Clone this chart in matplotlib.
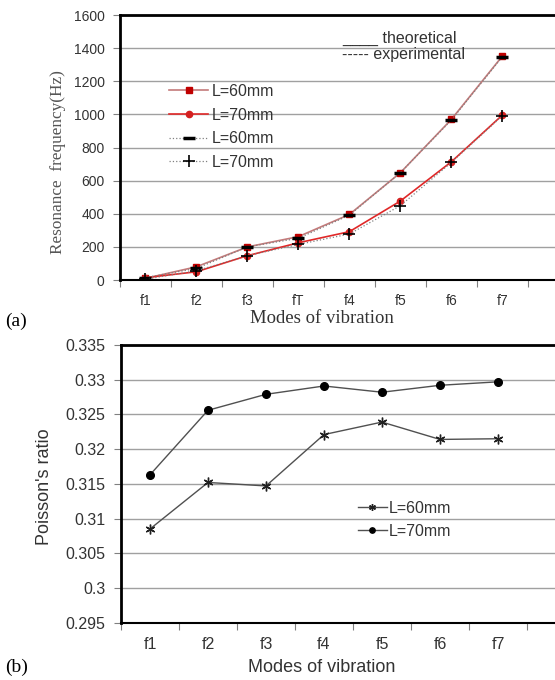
import numpy as np
import matplotlib
matplotlib.use("Agg")
import matplotlib.pyplot as plt

# (a) resonance frequency
modes_a = ["f1", "f2", "f3", "fT", "f4", "f5", "f6", "f7"]
theo_60 = [10, 80, 200, 262, 396, 648, 970, 1352]
theo_70 = [14, 50, 147, 225, 292, 477, 714, 996]
exp_60 = [15, 70, 200, 252, 392, 648, 966, 1348]
exp_70 = [5, 56, 147, 215, 278, 449, 710, 992]
freq_ticks = [0, 200, 400, 600, 800, 1000, 1200, 1400, 1600]

# (b) Poisson's ratio
modes_b = ["f1", "f2", "f3", "f4", "f5", "f6", "f7"]
nu_60 = [0.3085, 0.3152, 0.3147, 0.3221, 0.3239, 0.3214, 0.3215]
nu_70 = [0.3163, 0.3256, 0.3279, 0.3291, 0.3282, 0.3292, 0.3297]
nu_ticks = [0.295, 0.3, 0.305, 0.31, 0.315, 0.32, 0.325, 0.33, 0.335]

SANS = "Liberation Sans"
SERIF = "Liberation Serif"
TXT = "#333333"
GRID = "#a0a0a0"

fig = plt.figure(figsize=(5.55, 6.8), dpi=100)


def style_axes(ax, n, xmax, size):
    ax.set_xlim(-0.5, xmax)
    ax.set_xticks(range(n))
    ax.tick_params(axis="x", which="major", length=0, pad=10,
                   labelsize=size, labelcolor=TXT)
    ax.set_xticks(np.arange(n + 1) - 0.5, minor=True)
    ax.tick_params(axis="x", which="minor", length=5, width=0.8,
                   color="#808080", direction="out")
    ax.tick_params(axis="y", length=5, width=0.8, color="#808080",
                   labelsize=size, labelcolor=TXT, pad=6)
    for lab in ax.get_xticklabels() + ax.get_yticklabels():
        lab.set_family(SANS)
    ax.grid(axis="y", color=GRID, lw=1)
    ax.set_axisbelow(True)
    ax.spines["right"].set_visible(False)
    ax.spines["left"].set_linewidth(2)
    ax.spines["top"].set_linewidth(2)
    ax.spines["bottom"].set_linewidth(1.5)


# ---- (a)
ax1 = fig.add_axes([0.2162, 0.5882, 0.79, 0.3897])
x_a = np.arange(len(modes_a))
ax1.plot(x_a, theo_60, "-", color="#c47a7a", lw=1.2, marker="s", ms=4.5,
         mfc="#c00000", mec="#c00000", label="L=60mm")
ax1.plot(x_a, theo_70, "-", color="#e02828", lw=1.2, marker="o", ms=4.5,
         mfc="#d42020", mec="#d42020", label="L=70mm")
ax1.plot(x_a, exp_60, ":", color="#808080", lw=0.9, marker="_", ms=8,
         mew=2.5, mec="black", label="L=60mm")
ax1.plot(x_a, exp_70, ":", color="#808080", lw=0.9, marker="+", ms=8,
         mew=1.2, mec="black", label="L=70mm")
ax1.set_ylim(0, 1600)
ax1.set_yticks(freq_ticks)
ax1.set_xticklabels(modes_a)
style_axes(ax1, len(modes_a), 8.1, 10)
ax1.legend(loc="upper left", bbox_to_anchor=(0.08, 0.795), frameon=False,
           handlelength=2.4, labelspacing=0.55, handletextpad=0.25,
           prop={"family": SANS, "size": 11.5}, labelcolor=TXT)
ax1.text(0.506, 0.94, "____ theoretical", transform=ax1.transAxes,
         family=SANS, fontsize=11.5, color=TXT, va="top")
ax1.text(0.506, 0.88, "----- experimental", transform=ax1.transAxes,
         family=SANS, fontsize=11.5, color=TXT, va="top")
ax1.set_ylabel("Resonance  frequency(Hz)", family=SERIF, fontsize=12.4,
               color="#555555")
ax1.yaxis.set_label_coords(-0.124, 0.445)
fig.text(0.58, 0.532, "Modes of vibration", family=SERIF, fontsize=13.5,
         color=TXT, ha="center", va="center")
fig.text(0.01, 0.528, "(a)", family=SERIF, fontsize=14, color="black",
         ha="left", va="center")

# ---- (b)
ax2 = fig.add_axes([0.218, 0.0843, 0.79, 0.4083])
x_b = np.arange(len(modes_b))
ax2.plot(x_b, nu_60, "-", color="#505050", lw=1.0, marker=(6, 2, 0), ms=7,
         mec="#202020", mew=1.0, label="L=60mm")
ax2.plot(x_b, nu_70, "-", color="#505050", lw=1.0, marker="o", ms=5.5,
         mfc="black", mec="black", label="L=70mm")
ax2.set_ylim(0.295, 0.335)
ax2.set_yticks(nu_ticks)
ax2.set_yticklabels([f"{v:g}" for v in nu_ticks])
ax2.set_xticklabels(modes_b)
style_axes(ax2, len(modes_b), 7.06, 11.5)
ax2.legend(loc="upper left", bbox_to_anchor=(0.508, 0.49), frameon=False,
           handlelength=1.8, labelspacing=0.5, handletextpad=0.15,
           markerscale=0.7, prop={"family": SANS, "size": 11.5},
           labelcolor=TXT)
ax2.set_ylabel("Poisson's ratio", family=SANS, fontsize=13, color=TXT)
ax2.yaxis.set_label_coords(-0.156, 0.49)
fig.text(0.58, 0.019, "Modes of vibration", family=SANS, fontsize=13,
         color=TXT, ha="center", va="center")
fig.text(0.01, 0.018, "(b)", family=SERIF, fontsize=14, color="black",
         ha="left", va="center")

fig.savefig("out.png", dpi=100)
